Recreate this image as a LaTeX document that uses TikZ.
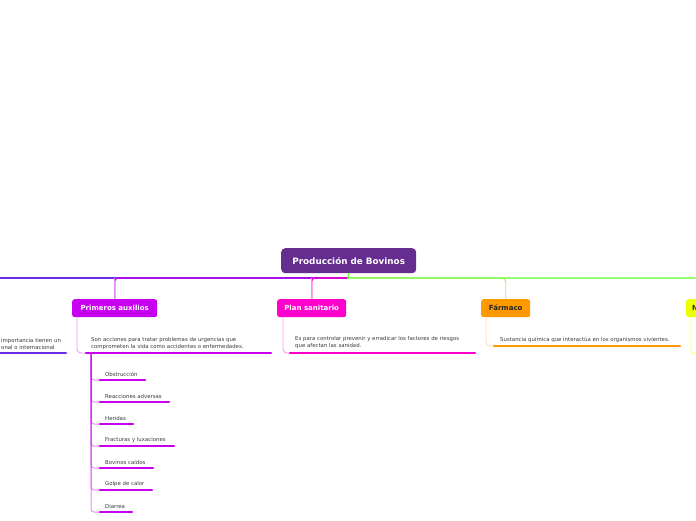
\documentclass[tikz,border=0pt]{standalone}
\usepackage{fontspec}
\setmainfont{DejaVu Sans}
\usetikzlibrary{positioning}

\definecolor{rootcol}{HTML}{662D91}
\definecolor{leftcol}{HTML}{6A2EEA}
\definecolor{aidcol}{HTML}{C800F0}
\definecolor{plancol}{HTML}{FF00CC}
\definecolor{drugcol}{HTML}{FF9900}
\definecolor{greencol}{HTML}{5CFF2A}
\definecolor{yelcol}{HTML}{EEFF00}
\definecolor{notecol}{HTML}{3A3A3A}

\tikzset{
  topic/.style={anchor=north west, rounded corners=2.5pt, inner sep=0pt,
    minimum height=18pt, text=white, font=\bfseries\fontsize{7}{8}\selectfont},
  note/.style={anchor=south west, inner sep=0pt, align=left, text=notecol,
    font=\fontsize{5.4}{7}\selectfont},
  bar/.style={line width=2.6pt, line cap=round},
  branch/.style={line width=1.4pt},
  drop/.style={line width=0.9pt, rounded corners=4pt},
  sublink/.style={line width=1pt, rounded corners=3pt, draw opacity=0.45},
}

\begin{document}
\begin{tikzpicture}[x=1pt, y=-1pt]
  \useasboundingbox (0,0) rectangle (696,520);

  % central topic
  \node[anchor=north west, fill=rootcol, rounded corners=4pt, minimum width=135pt,
    minimum height=25pt, inner sep=0pt, text=white,
    font=\bfseries\fontsize{8.8}{10}\selectfont] (root) at (281,248) {Producción de Bovinos};
  \coordinate (hub) at (348,278);
  \coordinate (leftend) at (-4,278);
  \coordinate (rightend) at (700,278);

  % main topics
  \node[topic, fill=aidcol, minimum width=85pt] (aid) at (72,299) {Primeros auxilios};
  \node[topic, fill=plancol, minimum width=69pt] (plan) at (277,299) {Plan sanitario};
  \node[topic, fill=drugcol, minimum width=49pt, text=black!85] (drug) at (481,299) {Fármaco};
  \node[topic, fill=yelcol, text=black!85, inner xsep=6pt] (yel) at (686,299) {N};

  % branches from the centre
  \draw[branch, leftcol] (hub) -- (leftend);
  \draw[branch, aidcol, rounded corners=3pt] (hub) -| (aid.north);
  \draw[branch, plancol, rounded corners=3pt] (hub) -| (plan.north);
  \draw[drop, drugcol!60] (hub) -| (drug.north);
  \draw[branch, greencol] (root.south) -- (hub) -- (rightend);
  \draw[drop, aidcol!45] (hub -| aid.north) -- (aid.north);
  \draw[drop, plancol!45] (hub -| plan.north) -- (plan.north);

  % left topic (cut off)
  \node[note] (leftnote) at (1,350) {importancia tienen un\\onal o internacional};
  \draw[bar, leftcol] (-4,353) -- (66,353);

  % Primeros auxilios
  \coordinate (aidbar) at (86,353);
  \node[note] (aidnote) at (91,350) {Son acciones para tratar problemas de urgencias que\\comprometen la vida como accidentes o enfermedades.};
  \draw[drop, aidcol!40] ([xshift=5pt]aid.south west) |- (aidbar);
  \draw[bar, aidcol] (aidbar) -- ++(185,0);
  \coordinate (aidstem) at (91,353);
  \foreach \lbl/\len [count=\i] in {Obstrucción/45, Reacciones adversas/69,
      Heridas/33, Fracturas y luxaciones/74, Bovinos caídos/53,
      Golpe de calor/52, Diarrea/32} {
    \coordinate (subbar\i) at (100,{380+22*(\i-1)});
    \draw[sublink, aidcol] (aidstem) |- (subbar\i);
    \node[note] (sub\i) at (105,{377+22*(\i-1)}) {\lbl};
    \draw[bar, aidcol] (subbar\i) -- ++(\len,0);
  }

  % Plan sanitario
  \coordinate (planbar) at (290,353);
  \node[note] (plannote) at (295,349) {Es para controlar prevenir y erradicar los factores de riesgos\\que afectan las sanidad.};
  \draw[drop, plancol!40] ([xshift=6pt]plan.south west) |- (planbar);
  \draw[bar, plancol] (planbar) -- ++(185,0);

  % Farmaco
  \coordinate (drugbar) at (494,346);
  \node[note] (drugnote) at (500,343) {Sustancia química que interactúa en los organismos vivientes.};
  \draw[drop, drugcol!35] ([xshift=5pt]drug.south west) |- (drugbar);
  \draw[bar, drugcol] (drugbar) -- ++(186,0);

  % right topic (cut off)
  \coordinate (yelbar) at (700,354);
  \draw[drop, yelcol!60] ([xshift=5pt]yel.south west) |- (yelbar);
\end{tikzpicture}
\end{document}
